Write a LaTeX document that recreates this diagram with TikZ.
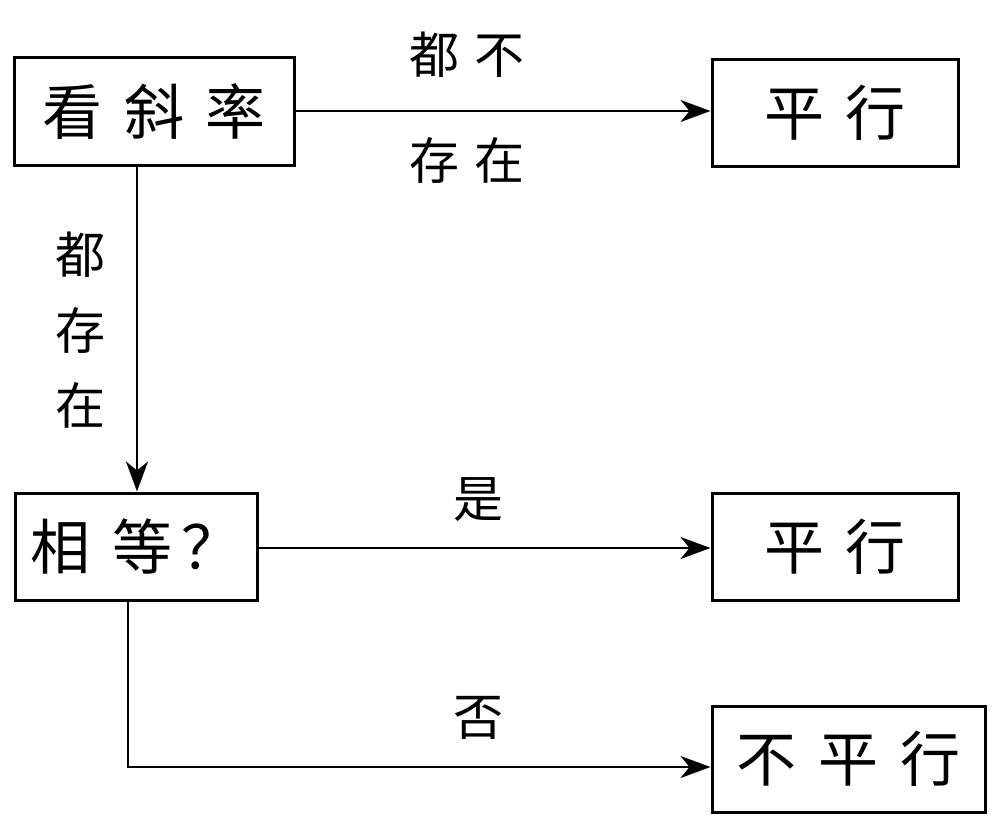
\documentclass[tikz,border=0pt]{standalone}
\usepackage{fontspec}
\setmainfont{Noto Sans CJK SC}
\usetikzlibrary{arrows.meta}
\newcommand{\bsp}{\hspace{0.36em}}
\newcommand{\lsp}{\hspace{0.3em}}
\begin{document}
\begin{tikzpicture}[x=1pt,y=-1pt,
  box/.style={draw,line width=3pt,inner sep=0pt,font=\fontsize{60}{64}\selectfont},
  lab/.style={inner sep=0pt,font=\fontsize{50}{54}\selectfont},
  arr/.style={line width=2.6pt,-{Stealth[length=30pt,width=22pt,inset=9pt]}}]
\useasboundingbox (0,0) rectangle (1008,832);
\node[box,minimum width=280pt,minimum height=108pt] (kx) at (154,111.5) {看\bsp 斜\bsp 率};
\node[box,minimum width=246pt,minimum height=106pt] (px1) at (835,113) {平\bsp 行};
\node[box,minimum width=242pt,minimum height=107pt] (xd) at (136,546.5) {相\bsp 等\hspace{0.15em}？};
\node[box,minimum width=246pt,minimum height=107pt] (px2) at (835,546.5) {平\bsp 行};
\node[box,minimum width=273pt,minimum height=106pt] (bpx) at (848.5,759) {不\bsp 平\bsp 行};
\coordinate (v1) at (137,0);
\coordinate (v2) at (128,767);
\draw[arr] (kx.east |- 0,111) -- (px1.west |- 0,111);
\draw[arr] (kx.south -| v1) -- (xd.north -| v1);
\draw[arr] (xd.east |- 0,548) -- (px2.west |- 0,548);
\draw[arr] (xd.south -| v2) -- (v2) -- (bpx.west |- v2);
\node[lab] (l1) at (467,55) {都\lsp 不};
\node[lab] (l2) at (467,160) {存\lsp 在};
\node[lab] (l3) at (80,255) {都};
\node[lab] (l4) at (80,330) {存};
\node[lab] (l5) at (80,405) {在};
\node[lab] (l6) at (478,500) {是};
\node[lab] (l7) at (478,718) {否};
\end{tikzpicture}
\end{document}
